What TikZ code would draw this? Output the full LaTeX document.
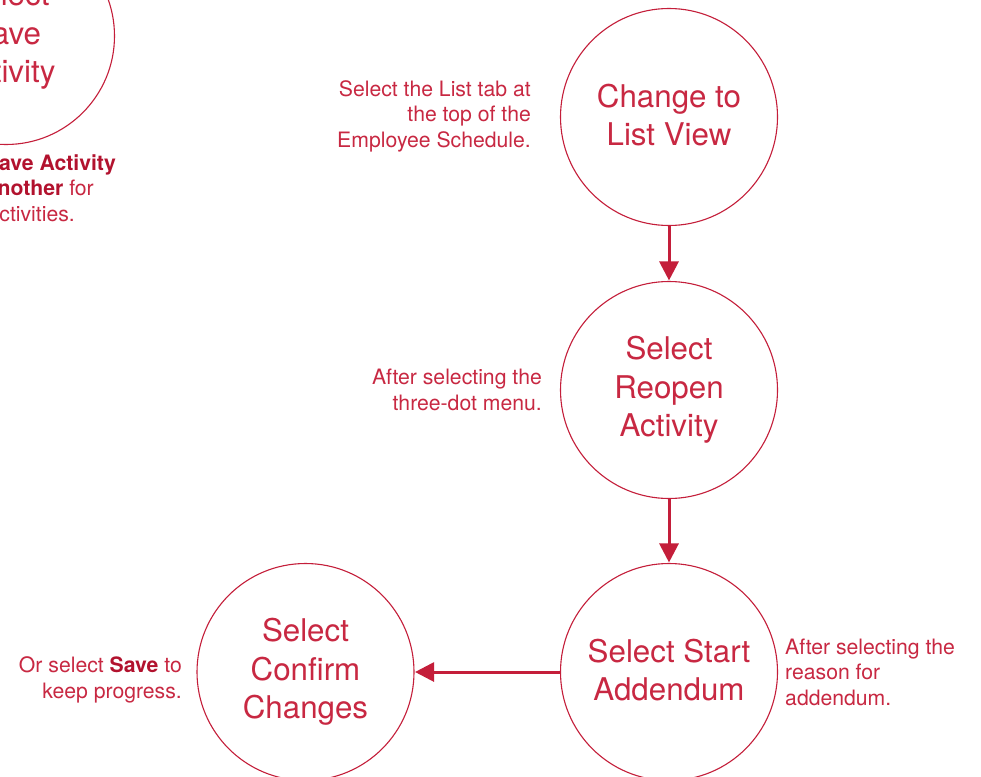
\documentclass[tikz,border=0pt]{standalone}
\usepackage{fontspec}
\setmainfont{TeX Gyre Heros}
\usetikzlibrary{arrows.meta}
\definecolor{crim}{RGB}{196,30,58}
\definecolor{crimtext}{RGB}{200,40,66}
\definecolor{crimbold}{RGB}{178,18,46}
\tikzset{
  stepcircle/.style={circle, draw=crim, line width=1.1pt, minimum size=217pt, inner sep=0pt,
    align=center, text=crimtext, font=\fontsize{31.3}{38.5}\selectfont},
  note/.style={text=crimtext, inner sep=0pt, font=\fontsize{21.2}{25.5}\selectfont},
  flowarrow/.style={draw=crim, line width=3pt, -{Triangle[length=19pt,width=19pt]}, shorten >=0.5pt},
}
\newcommand{\hl}[1]{\textcolor{crimbold}{\textbf{#1}}}
\newcommand{\upby}[1]{\raisebox{2pt}[\height][\depth]{\parbox{200pt}{\centering #1}}}
\begin{document}
\begin{tikzpicture}[x=1pt,y=-1pt]
\useasboundingbox (0,0) rectangle (981,776);
\clip (0,0) rectangle (981,776);
\fill[white] (0,0) rectangle (981,776);

\node[stepcircle] (c0) at (6,36) {Select\\Save\\Activity};
\node[stepcircle] (c1) at (669,117) {\upby{Change to\\List View}};
\node[stepcircle] (c2) at (669,390) {Select\\Reopen\\Activity};
\node[stepcircle] (c3) at (669,672) {\upby{Select Start\\Addendum}};
\node[stepcircle] (c4) at (305.5,672) {Select\\Confirm\\Changes};

\draw[flowarrow] (c1) -- (c2);
\draw[flowarrow] (c2) -- (c3);
\draw[flowarrow] (c3) -- (c4);

\node[note, anchor=base east] (n0a) at (116,170) {Select \hl{Save Activity}};
\node[note, anchor=base east] (n0b) at (94,195.5) {or \hl{Save and Add Another} for};
\node[note, anchor=base east] (n0c) at (75,221) {additional activities.};

\node[note, anchor=east, align=right] (n1) at (531,116) {Select the List tab at\\the top of the\\Employee Schedule.};
\node[note, anchor=east, align=right] (n2) at (542,390) {After selecting the\\three-dot menu.};
\node[note, anchor=west, align=left] (n3) at (785,672) {After selecting the\\reason for\\addendum.};
\node[note, anchor=east, align=right] (n4) at (182,680) {Or select \hl{Save} to\\keep progress.};
\end{tikzpicture}
\end{document}
